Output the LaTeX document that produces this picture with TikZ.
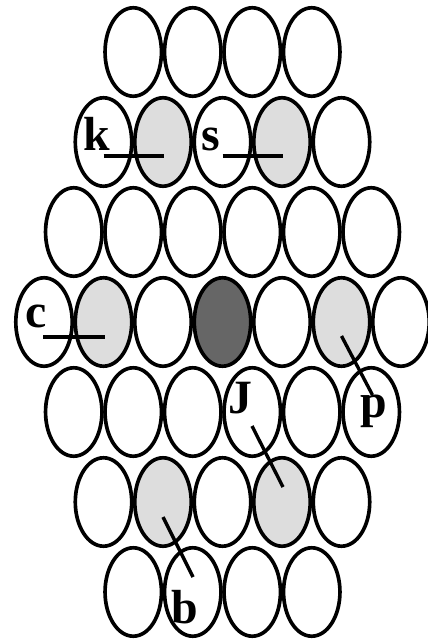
\documentclass[tikz,border=0pt]{standalone}
\usepackage{fontspec}
\setmainfont{Liberation Serif}
\usetikzlibrary{shapes.geometric, calc}
\definecolor{celllight}{HTML}{DDDDDD}
\definecolor{celldark}{HTML}{666666}

\begin{document}
\begin{tikzpicture}[
    x=0.025cm, y=-0.025cm,
    cell/.style={ellipse, draw=black, line width=2.6pt, fill=white, minimum width=1.41cm, minimum height=2.21cm, inner sep=0pt},
    lite/.style={cell, fill=celllight},
    dark/.style={cell, fill=celldark},
    tag/.style={font=\fontsize{34}{40}\selectfont\bfseries, inner sep=0pt, anchor=base},
    pin/.style={line width=2.4pt}
]
\useasboundingbox (0,0) rectangle (428,640);

% Cells
\foreach \s [count=\i] in {cell,cell,cell,cell}
    \node[\s] (r1c\i) at ({133.25+59.5*(\i-1)},52) {};
\foreach \s [count=\i] in {cell,lite,cell,lite,cell}
    \node[\s] (r2c\i) at ({103.5+59.5*(\i-1)},142) {};
\foreach \s [count=\i] in {cell,cell,cell,cell,cell,cell}
    \node[\s] (r3c\i) at ({73.75+59.5*(\i-1)},232) {};
\foreach \s [count=\i] in {cell,lite,cell,dark,cell,lite,cell}
    \node[\s] (r4c\i) at ({44+59.5*(\i-1)},322) {};
\foreach \s [count=\i] in {cell,cell,cell,cell,cell,cell}
    \node[\s] (r5c\i) at ({73.75+59.5*(\i-1)},412) {};
\foreach \s [count=\i] in {cell,lite,cell,lite,cell}
    \node[\s] (r6c\i) at ({103.5+59.5*(\i-1)},502) {};
\foreach \s [count=\i] in {cell,cell,cell,cell}
    \node[\s] (r7c\i) at ({133.25+59.5*(\i-1)},592) {};

% Labels
\node[tag] (k) at (97,150) {k};
\node[tag] (s) at (211,150) {s};
\node[tag] (c) at (36,327) {c};
\node[tag] (J) at (240,413) {J};
\node[tag] (p) at (374,417) {p};
\node[tag] (b) at (185,623) {b};

% Pointers
\draw[pin] ($(r2c1)+(0,14)$) -- ($(r2c2)+(1,14)$);
\draw[pin] ($(r2c3)+(0,14)$) -- ($(r2c4)+(1,14)$);
\draw[pin] ($(r4c1)+(-1,15)$) -- ($(r4c2)+(1,15)$);
\draw[pin] ($(r4c6)+(0,14)$) -- ($(r4c6)+(31,73)$);
\draw[pin] ($(r6c4)+(-30,-76)$) -- ($(r6c4)+(1,-15)$);
\draw[pin] ($(r6c2)+(0,15)$) -- ($(r6c2)+(30,75)$);

\end{tikzpicture}
\end{document}
